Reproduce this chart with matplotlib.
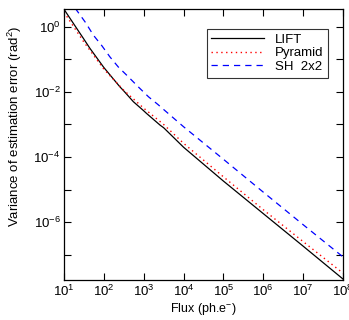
import numpy as np
from matplotlib import pyplot as plt
from matplotlib import ticker

plt.rcParams['font.family'] = ['Liberation Sans', 'DejaVu Sans']
plt.rcParams['mathtext.fontset'] = 'custom'
plt.rcParams['mathtext.rm'] = 'Liberation Sans'
plt.rcParams['mathtext.it'] = 'Liberation Sans'

# log10(flux) and log10(variance) for each wavefront sensor
lift_logf = [1.0, 1.32, 1.5, 1.65, 2.0, 2.4, 2.5, 2.74, 3.0, 3.07, 3.41, 3.5, 4.0, 5.0, 6.0, 7.0, 8.0]
lift_logv = [0.54, -0.05, -0.38, -0.66, -1.25, -1.84, -1.97, -2.30, -2.58, -2.66, -3.02, -3.10, -3.70, -4.74, -5.74, -6.74, -7.75]

pyr_logf = [1.0, 1.5, 2.0, 2.5, 3.0, 3.5, 4.0, 5.0, 6.0, 7.0, 8.0]
pyr_logv = [0.45, -0.47, -1.30, -1.95, -2.50, -3.00, -3.58, -4.61, -5.62, -6.60, -7.57]

sh_logf = [1.0, 1.3, 1.53, 1.74, 1.95, 2.15, 2.36, 2.61, 2.86, 3.12, 3.37, 3.5, 4.0, 5.0, 6.0, 7.0, 8.0]
sh_logv = [1.06, 0.54, 0.15, -0.26, -0.58, -0.92, -1.23, -1.53, -1.84, -2.15, -2.40, -2.54, -3.07, -4.07, -5.08, -6.08, -7.07]

fig = plt.figure(figsize=(3.49, 3.20), dpi=100)
ax = fig.add_axes([0.1834, 0.125, 0.7994, 0.847])

ax.plot(10**np.array(lift_logf), 10**np.array(lift_logv), color='black', lw=0.9, label='LIFT')
ax.plot(10**np.array(pyr_logf), 10**np.array(pyr_logv), color='red', lw=1.0,
        linestyle=(0, (1, 2.5)), label='Pyramid')
ax.plot(10**np.array(sh_logf), 10**np.array(sh_logv), color='blue', lw=0.9,
        linestyle=(0, (5, 4)), label='SH  2x2')

ax.set_xscale('log')
ax.set_yscale('log')
ax.set_xlim(1e1, 1e8)
ax.set_ylim(10**-7.78, 10**0.55)

ax.xaxis.set_major_locator(ticker.LogLocator(base=10, numticks=20))
ax.yaxis.set_major_locator(ticker.LogLocator(base=10, numticks=20))
ax.xaxis.set_minor_locator(ticker.NullLocator())
ax.yaxis.set_minor_locator(ticker.NullLocator())

def even_only(v, pos):
    e = int(round(np.log10(v)))
    if e % 2:
        return ''
    return r'$10^{%d}$' % e

ax.yaxis.set_major_formatter(ticker.FuncFormatter(even_only))
ax.xaxis.set_major_formatter(ticker.FuncFormatter(lambda v, p: r'$10^{%d}$' % int(round(np.log10(v)))))

ax.tick_params(which='both', direction='in', top=True, right=True, length=5, width=0.8,
               labelsize=9.5)
ax.tick_params(axis='x', pad=3)
ax.tick_params(axis='y', pad=2.5)
for s in ax.spines.values():
    s.set_linewidth(0.9)

ax.set_xlabel(r'Flux (ph.e$^{-}$)', fontsize=9)
ax.set_ylabel(r'Variance of estimation error (rad$^{2}$)', fontsize=9.5)
ax.xaxis.set_label_coords(0.5, -0.078)
ax.yaxis.set_label_coords(-0.143, 0.568)

leg = ax.legend(loc='upper right', bbox_to_anchor=(0.946, 0.926), borderaxespad=0,
                fontsize=9.5, frameon=True, fancybox=False, edgecolor='black',
                handlelength=4.0, handletextpad=0.8, labelspacing=0.1, borderpad=0.35)
leg.get_frame().set_linewidth(0.8)

fig.savefig('out.png', dpi=100)
